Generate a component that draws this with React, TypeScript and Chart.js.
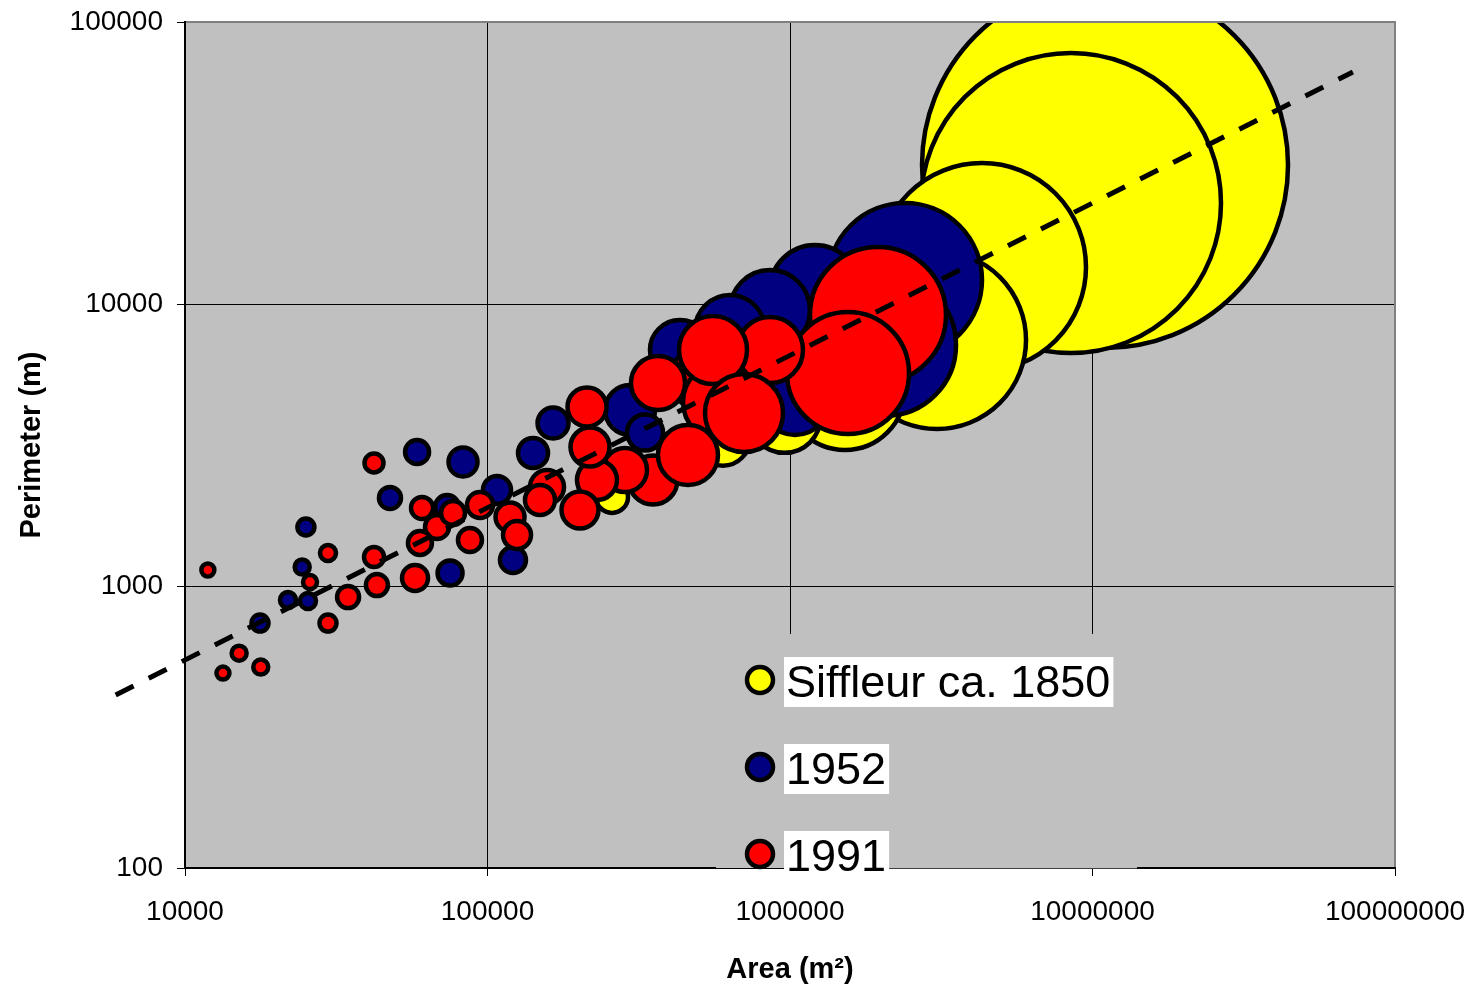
import React, { useEffect, useRef } from 'react';
import { Chart, registerables } from 'chart.js';

Chart.register(...registerables);

const FONT = '"Liberation Sans", Arial, Helvetica, sans-serif';

// Axis ticks
const xTicks = [10000, 100000, 1000000, 10000000, 100000000];
const yTicks = [100, 1000, 10000, 100000];

// Series names and colours
const seriesNames = ['Siffleur ca. 1850', '1952', '1991'];
const seriesColors = ['#FFFF00', '#000080', '#FF0000'];

// Siffleur ca. 1850 (area m², perimeter m, bubble size)
const area1850 = [11000000, 8490000, 4312000, 3062000, 1520000, 960000, 600000, 258000];
const perim1850 = [31110, 22810, 13520, 7452, 4955, 3980, 3330, 2070];
const size1850 = [183, 150, 104, 89, 60, 36, 27, 16];

// 1952
const area1952 = [2400000, 2061000, 1209000, 858700, 1039000, 633400, 432800, 295900, 331700, 164700, 141400, 83000, 107500, 121400, 75200, 58500, 73500, 47600, 25100, 17700, 21900, 25500, 24400];
const perim1952 = [12170, 7155, 11210, 9521, 4566, 8087, 6869, 4208, 3500, 3784, 2962, 2753, 2189, 1237, 1112, 2987, 1906, 2052, 1619, 739, 892, 885, 1168];
const size1952 = [77, 71, 45, 40, 35, 35, 30, 25, 18, 15.5, 15, 14.5, 14, 13, 12.5, 12, 12, 11, 8.5, 8.5, 8, 8, 7.5];

// 1991
const area1991 = [1954000, 1555000, 523600, 596100, 858700, 556600, 704600, 352500, 460000, 366100, 284800, 230100, 218200, 213300, 202200, 157300, 149100, 118700, 125200, 94450, 57600, 87500, 68100, 76900, 59800, 60750, 34600, 43100, 42150, 42150, 29700, 29700, 15100, 17800, 25900, 11900, 13350];
const perim1991 = [9141, 5691, 5463, 4493, 6869, 6869, 4107, 2376, 2913, 5247, 2578, 2376, 3111, 4313, 1860, 2244, 2018, 1757, 1516, 1938, 1068, 1456, 1619, 1815, 1421, 1891, 914, 1008, 1267, 2731, 739, 1309, 578, 516, 1033, 1140, 491];
const size1991 = [68, 61, 34, 39, 33, 34, 39, 24.5, 30, 27, 22, 20, 19.5, 19.5, 18.5, 17, 15, 14.5, 14, 13, 13, 12, 12, 12, 12, 11, 11, 11, 10, 9.5, 8.5, 8, 7.5, 7.5, 7, 6.5, 6.5];

// Power-law trend line (dashed)
const trendArea = [5900, 72600000];
const trendPerim = [411, 66500];

function pts(xs: number[], ys: number[], rs?: number[]) {
  return xs.map((x, i) => (rs ? { x, y: ys[i], r: rs[i] } : { x, y: ys[i] }));
}

const plotFrame = {
  id: 'plotFrame',
  beforeDraw(chart: any) {
    const { ctx, chartArea: a } = chart;
    ctx.save();
    ctx.fillStyle = '#c0c0c0';
    ctx.fillRect(a.left, a.top, a.right - a.left, a.bottom - a.top);
    ctx.restore();
  },
  afterDatasetsDraw(chart: any) {
    const { ctx, chartArea: a } = chart;
    ctx.save();
    ctx.strokeStyle = '#808080';
    ctx.lineWidth = 2;
    ctx.strokeRect(a.left, a.top, a.right - a.left, a.bottom - a.top);
    ctx.strokeStyle = '#000';
    ctx.lineWidth = 2;
    ctx.beginPath();
    ctx.moveTo(a.left, a.top - 1);
    ctx.lineTo(a.left, a.bottom);
    ctx.lineTo(a.right + 1, a.bottom);
    ctx.stroke();
    ctx.restore();
  },
};

const customLegend = {
  id: 'customLegend',
  afterDraw(chart: any) {
    const { ctx } = chart;
    ctx.save();
    // legend area (covers grid lines like the original)
    ctx.fillStyle = '#c0c0c0';
    ctx.fillRect(716, 634, 421, 234);
    ctx.fillStyle = '#404040';
    ctx.fillRect(886, 868, 251, 1);
    const ys = [680, 767, 854];
    const order = [0, 1, 2];
    ctx.font = '45px ' + FONT;
    order.forEach((si, i) => {
      const cy = ys[i];
      const name = seriesNames[si];
      const w = ctx.measureText(name).width;
      ctx.fillStyle = '#ffffff';
      ctx.fillRect(784, cy - 23, w + 5, 50);
      ctx.fillStyle = '#000';
      ctx.textBaseline = 'alphabetic';
      ctx.textAlign = 'left';
      ctx.fillText(name, 786, cy + 17);
      ctx.beginPath();
      ctx.arc(760, cy, 13, 0, Math.PI * 2);
      ctx.fillStyle = seriesColors[si];
      ctx.fill();
      ctx.lineWidth = 4.5;
      ctx.strokeStyle = '#000';
      ctx.stroke();
    });
    ctx.restore();
  },
};

const gridColor = (c: any) => {
  const v = c.tick ? c.tick.value : null;
  if (v === 10000 || v === 100000000) return 'rgba(0,0,0,0)';
  return '#000';
};
const gridColorY = (c: any) => {
  const v = c.tick ? c.tick.value : null;
  if (v === 100 || v === 100000) return 'rgba(0,0,0,0)';
  return '#000';
};

export default function App() {
  const ref = useRef<HTMLCanvasElement>(null);

  useEffect(() => {
    if (!ref.current) return;
    Chart.defaults.font.family = FONT;
    const chart = new Chart(ref.current, {
      type: 'bubble',
      data: {
        datasets: [
          {
            type: 'line',
            label: 'trend',
            data: pts(trendArea, trendPerim),
            borderColor: '#000',
            borderWidth: 5,
            borderDash: [20, 17],
            borderCapStyle: 'butt',
            pointRadius: 0,
            fill: false,
            tension: 0,
            clip: false,
            order: 0,
          } as any,
          {
            label: seriesNames[2],
            data: pts(area1991, perim1991, size1991),
            backgroundColor: seriesColors[2],
            borderColor: '#000',
            borderWidth: 4.5,
            clip: 0,
            order: 1,
          } as any,
          {
            label: seriesNames[1],
            data: pts(area1952, perim1952, size1952),
            backgroundColor: seriesColors[1],
            borderColor: '#000',
            borderWidth: 4.5,
            clip: 0,
            order: 2,
          } as any,
          {
            label: seriesNames[0],
            data: pts(area1850, perim1850, size1850),
            backgroundColor: seriesColors[0],
            borderColor: '#000',
            borderWidth: 4.5,
            clip: 0,
            order: 3,
          } as any,
        ],
      },
      options: {
        responsive: false,
        animation: false,
        devicePixelRatio: 1,
        events: [],
        layout: { autoPadding: false, padding: { left: 0, top: 22, right: 85, bottom: 0 } },
        plugins: {
          legend: { display: false },
          tooltip: { enabled: false },
          title: { display: false },
        },
        scales: {
          x: {
            type: 'logarithmic',
            min: 10000,
            max: 100000000,
            afterBuildTicks: (s: any) => {
              s.ticks = xTicks.map((v) => ({ value: v }));
            },
            afterFit: (s: any) => {
              s.height = 126;
              s.paddingLeft = 0;
              s.paddingRight = 0;
            },
            ticks: {
              callback: (v: any) => String(v),
              font: { size: 28, family: FONT },
              color: '#000',
              padding: 19,
              maxRotation: 0,
              autoSkip: false,
            },
            grid: {
              color: gridColor,
              lineWidth: 1,
              tickLength: 8,
              tickColor: '#000',
              tickWidth: 1,
            },
            border: { display: false },
            title: {
              display: true,
              text: 'Area (m²)',
              color: '#000',
              font: { size: 29, weight: 'bold', family: FONT },
              padding: { top: 0, bottom: 7 },
            },
          },
          y: {
            type: 'logarithmic',
            min: 100,
            max: 100000,
            afterBuildTicks: (s: any) => {
              s.ticks = yTicks.map((v) => ({ value: v }));
            },
            afterFit: (s: any) => {
              s.width = 185;
              s.paddingTop = 0;
              s.paddingBottom = 0;
            },
            ticks: {
              callback: (v: any) => String(v),
              font: { size: 28, family: FONT },
              color: '#000',
              padding: 14,
            },
            grid: {
              color: gridColorY,
              lineWidth: 1,
              tickLength: 8,
              tickColor: '#000',
              tickWidth: 1,
            },
            border: { display: false },
            title: {
              display: true,
              text: 'Perimeter (m)',
              color: '#000',
              font: { size: 29, weight: 'bold', family: FONT },
              padding: { top: 15, bottom: 0 },
            },
          },
        },
      } as any,
      plugins: [plotFrame, customLegend],
    });
    return () => chart.destroy();
  }, []);

  return (
    <div style={{ position: 'fixed', left: 0, top: 0, width: 1480, height: 994, background: '#fff' }}>
      <canvas ref={ref} width={1480} height={994} style={{ display: 'block', width: 1480, height: 994 }} />
    </div>
  );
}
